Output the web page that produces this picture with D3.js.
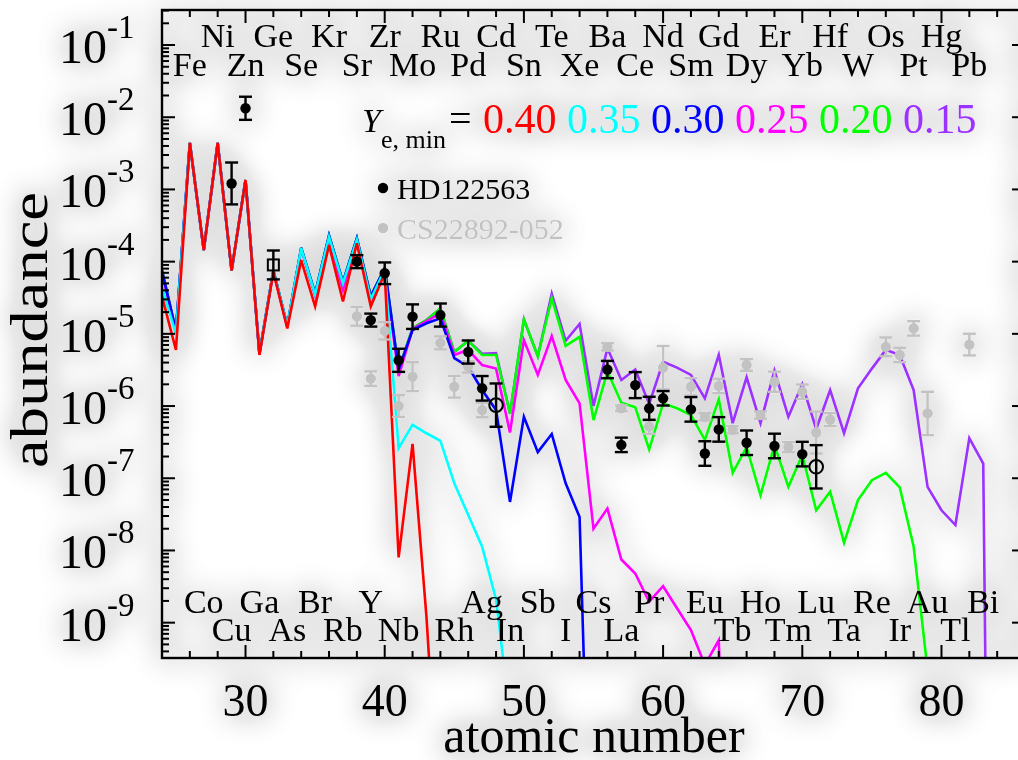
<!DOCTYPE html>
<html><head><meta charset="utf-8">
<script src="https://cdn.jsdelivr.net/npm/d3@7/dist/d3.min.js"></script>
<style>
html,body{margin:0;padding:0;background:#fff;}
svg{display:block;}
text{font-family:"Liberation Serif","Times New Roman","DejaVu Serif",serif;}
</style></head>
<body>
<svg id="chart" width="1018" height="760"></svg>
<script>
// ---------------- DATA ----------------
const Z = [24,25,26,27,28,29,30,31,32,33,34,35,36,37,38,39,40,41,42,43,44,45,46,47,48,49,50,51,52,53,54,55,56,57,58,59,60,61,62,63,64,65,66,67,68,69,70,71,72,73,74,75,76,77,78,79,80,81,82,83,84];

const ye040 = [3.3e-5,6.0e-6,4.4e-3,1.45e-4,4.4e-3,7.5e-5,1.35e-3,5.1e-6,7.2e-5,1.19e-5,1.05e-4,2.4e-5,1.7e-4,2.8e-5,1.8e-4,2.4e-5,6.9e-5,8.0e-9,3.0e-7,1.2e-9,1e-12];
const ye035 = [4.4e-5,1.0e-5,4.4e-3,1.45e-4,4.4e-3,7.5e-5,1.35e-3,5.3e-6,7.6e-5,1.3e-5,1.53e-4,3.5e-5,2.2e-4,5.0e-5,2.0e-4,3.0e-5,7.8e-5,2.6e-7,5.5e-7,4.2e-7,3.3e-7,8.5e-8,3.1e-8,1.13e-8,2.1e-9,5e-11];
const ye030 = [7.5e-5,1.1e-5,4.4e-3,1.45e-4,4.4e-3,7.5e-5,1.35e-3,5.3e-6,7.6e-5,1.3e-5,1.55e-4,3.6e-5,2.3e-4,5.2e-5,2.1e-4,3.3e-5,8.1e-5,3.2e-6,1.13e-5,1.4e-5,1.64e-5,4.6e-6,3.5e-6,1.67e-6,8.8e-7,4.7e-8,7.1e-7,2.3e-7,4.1e-7,8.5e-8,2.9e-8,1e-14];
const ye025 = [7.0e-5,1.05e-5,4.4e-3,1.45e-4,4.4e-3,7.5e-5,1.35e-3,5.2e-6,7.4e-5,1.25e-5,1.5e-4,3.4e-5,2.1e-4,4.05e-5,1.9e-4,2.65e-5,7.8e-5,2.6e-6,1.16e-5,1.5e-5,1.92e-5,5.1e-6,6.0e-6,3.7e-6,3.3e-6,4.3e-7,8.2e-6,2.7e-6,9.3e-6,2.3e-6,1.09e-6,2.0e-8,3.8e-8,7.5e-9,4.8e-9,1.95e-9,3.2e-9,1.58e-9,7.9e-10,2.6e-10,5.7e-10,1e-15];
const ye020 = [7.5e-5,1.1e-5,4.4e-3,1.45e-4,4.4e-3,7.5e-5,1.35e-3,5.3e-6,7.6e-5,1.3e-5,1.55e-4,3.6e-5,2.3e-4,5.2e-5,2.1e-4,3.3e-5,8.1e-5,3.2e-6,1.2e-5,1.55e-5,2.25e-5,5.6e-6,8.0e-6,5.1e-6,5.1e-6,7.9e-7,1.58e-5,4.9e-6,3.1e-5,6.8e-6,9.1e-6,6.4e-7,3.0e-6,1.11e-6,9.6e-7,2.5e-7,1.09e-6,9.3e-7,7.5e-7,3.4e-7,1.24e-6,1.19e-7,2.7e-7,5.8e-8,2.9e-7,7.6e-8,2.1e-7,3.6e-8,6.5e-8,1.28e-8,5.0e-8,9.4e-8,1.19e-7,7.5e-8,1.13e-8,2.2e-10];
const ye015 = [7.5e-5,1.1e-5,4.4e-3,1.45e-4,4.4e-3,7.5e-5,1.35e-3,5.3e-6,7.6e-5,1.3e-5,1.55e-4,3.6e-5,2.3e-4,5.2e-5,2.1e-4,3.3e-5,8.1e-5,3.2e-6,1.2e-5,1.55e-5,2.25e-5,5.6e-6,8.0e-6,5.3e-6,5.4e-6,7.9e-7,1.58e-5,4.9e-6,3.6e-5,8.0e-6,1.37e-5,1.0e-6,6.3e-6,2.3e-6,3.2e-6,1.07e-6,4.1e-6,3.4e-6,2.7e-6,1.28e-6,5.1e-6,5.8e-7,2.5e-6,5.8e-7,3.1e-6,7.1e-7,2.0e-6,4.8e-7,1.67e-6,4.2e-7,1.76e-6,3.3e-6,6.0e-6,5.1e-6,1.67e-6,7.6e-8,3.6e-8,2.25e-8,3.6e-7,1.6e-7,1e-25];

const seriesNames = ["0.15","0.20","0.25","0.30","0.35","0.40"];
const seriesColors = ["#9b30ff","#00ff00","#ff00ff","#0000ff","#00ffff","#ff0000"];

// HD122563 (filled)
const hdZ   = [29,30,38,39,40,41,42,44,46,47,56,57,58,59,60,62,63,64,66,68,70];
const hdVal = [1.21e-3,1.33e-2,1.0e-4,1.55e-5,6.9e-5,4.3e-6,1.73e-5,1.82e-5,5.6e-6,1.76e-6,3.2e-6,2.9e-7,1.95e-6,9.3e-7,1.28e-6,9.0e-7,2.2e-7,4.75e-7,3.1e-7,2.8e-7,2.16e-7];
const hdErr = [0.29,0.16,0.09,0.09,0.15,0.16,0.17,0.16,0.16,0.17,0.12,0.1,0.18,0.16,0.1,0.17,0.17,0.17,0.17,0.17,0.17];
// HD122563 (open symbols)
const hdOpenZ   = [32,48,71];
const hdOpenVal = [9.0e-5,1.03e-6,1.44e-7];
const hdOpenErr = [0.2,0.3,0.3];
const hdOpenSym = ["square","circle","circle"];
// CS22892-052
const csZ   = [38,39,40,41,42,44,45,46,47,56,57,59,60,62,63,64,65,66,67,68,69,70,71,72,76,77,78,79,82];
const csVal = [1.75e-5,2.4e-6,1.1e-5,1.0e-6,2.55e-6,7.5e-6,1.85e-6,3.5e-6,8.8e-7,6.6e-6,9.3e-7,5.2e-7,3.4e-6,1.85e-6,7.1e-7,1.9e-6,4.7e-7,3.7e-6,7.5e-7,2.17e-6,2.7e-7,1.58e-6,4.3e-7,6.5e-7,6.6e-6,5.1e-6,1.19e-5,7.9e-7,7.1e-6];
const csErr = [0.13,0.1,0.12,0.15,0.2,0.09,0.15,0.08,0.1,0.05,0.04,0.1,0.3,0.12,0.05,0.1,0.05,0.08,0.05,0.14,0.07,0.1,0.29,0.09,0.13,0.1,0.1,0.3,0.15];

// element labels
const topRow1 = [["Ni",28],["Ge",32],["Kr",36],["Zr",40],["Ru",44],["Cd",48],["Te",52],["Ba",56],["Nd",60],["Gd",64],["Er",68],["Hf",72],["Os",76],["Hg",80]];
const topRow2 = [["Fe",26],["Zn",30],["Se",34],["Sr",38],["Mo",42],["Pd",46],["Sn",50],["Xe",54],["Ce",58],["Sm",62],["Dy",66],["Yb",70],["W",74],["Pt",78],["Pb",82]];
const botRow1 = [["Co",27],["Ga",31],["Br",35],["Y",39],["Ag",47],["Sb",51],["Cs",55],["Pr",59],["Eu",63],["Ho",67],["Lu",71],["Re",75],["Au",79],["Bi",83]];
const botRow2 = [["Cu",29],["As",33],["Rb",37],["Nb",41],["Rh",45],["In",49],["I",53],["La",57],["Tb",65],["Tm",69],["Ta",73],["Ir",77],["Tl",81]];

const xTicks = [30,40,50,60,70,80];
const yTickExp = [-1,-2,-3,-4,-5,-6,-7,-8,-9];

// ---------------- LAYOUT ----------------
const L = 162, R = 1025, T = 10, B = 658;
const x = d3.scaleLinear().domain([24,86]).range([L,R]);
const y = d3.scaleLog().domain([3.24e-10,0.3055]).range([B,T]);

const svg = d3.select("#chart");
const defs = svg.append("defs");
const f = defs.append("filter").attr("id","glow").attr("x",-0.1).attr("y",-0.1).attr("width",1.2).attr("height",1.2);
f.append("feGaussianBlur").attr("in","SourceAlpha").attr("stdDeviation",15).attr("result","b");
f.append("feComponentTransfer").attr("in","b").attr("result","c")
  .append("feFuncA").attr("type","table").attr("tableValues","0 0.09 0.12 0.14 0.15 0.16 0.16 0.16 0.16");
const fm = f.append("feMerge");
fm.append("feMergeNode").attr("in","c");
fm.append("feMergeNode").attr("in","SourceGraphic");
defs.append("clipPath").attr("id","plotclip").append("rect")
  .attr("x",L).attr("y",T).attr("width",R-L).attr("height",B-T);

const g = svg.append("g").attr("filter","url(#glow)");
g.append("rect").attr("x",0).attr("y",0).attr("width",1018).attr("height",760).attr("fill","#fff").attr("fill-opacity",0.001);

// ---------------- LINES ----------------
const allSeries = [ye015,ye020,ye025,ye030,ye035,ye040];
const line = d3.line().defined(d => d[1] != null).x(d => x(d[0])).y(d => y(d[1]));
const lg = g.append("g").attr("clip-path","url(#plotclip)");
allSeries.forEach((s,i) => {
  const pts = s.map((v,j) => [Z[j], v]);
  lg.append("path").datum(pts).attr("d", line)
    .attr("fill","none").attr("stroke",seriesColors[i]).attr("stroke-width",2.6)
    .attr("stroke-linejoin","miter");
});

// ---------------- POINTS ----------------
function errBars(sel, zs, vs, es, color){
  zs.forEach((z,i) => {
    const v = vs[i], e = Math.pow(10, es[i]);
    const cx = x(z), y0 = y(v*e), y1 = y(v/e);
    sel.append("line").attr("x1",cx).attr("x2",cx).attr("y1",y0).attr("y2",y1).attr("stroke",color).attr("stroke-width",2.4);
    sel.append("line").attr("x1",cx-6.5).attr("x2",cx+6.5).attr("y1",y0).attr("y2",y0).attr("stroke",color).attr("stroke-width",2.4);
    sel.append("line").attr("x1",cx-6.5).attr("x2",cx+6.5).attr("y1",y1).attr("y2",y1).attr("stroke",color).attr("stroke-width",2.4);
  });
}
const pg = g.append("g");
const gray = "#c2c2c2";
errBars(pg, csZ, csVal, csErr, gray);
csZ.forEach((z,i) => pg.append("circle").attr("cx",x(z)).attr("cy",y(csVal[i])).attr("r",5.2).attr("fill",gray));
errBars(pg, hdZ, hdVal, hdErr, "#000");
hdZ.forEach((z,i) => pg.append("circle").attr("cx",x(z)).attr("cy",y(hdVal[i])).attr("r",5.2).attr("fill","#000"));
errBars(pg, hdOpenZ, hdOpenVal, hdOpenErr, "#000");
hdOpenZ.forEach((z,i) => {
  const cx = x(z), cy = y(hdOpenVal[i]);
  if (hdOpenSym[i] === "square")
    pg.append("rect").attr("x",cx-5.5).attr("y",cy-5.5).attr("width",11).attr("height",11).attr("fill","none").attr("stroke","#000").attr("stroke-width",2);
  else
    pg.append("circle").attr("cx",cx).attr("cy",cy).attr("r",6.8).attr("fill","none").attr("stroke","#000").attr("stroke-width",2);
});

// ---------------- AXES / FRAME ----------------
const ag = g.append("g");
ag.append("rect").attr("x",L).attr("y",T).attr("width",R-L).attr("height",B-T).attr("fill","none").attr("stroke","#000").attr("stroke-width",2.4);
const xMinor = d3.range(26,86,2);
xMinor.forEach(v => {
  const len = (v % 10 === 0) ? 13 : 7;
  ag.append("line").attr("x1",x(v)).attr("x2",x(v)).attr("y1",B).attr("y2",B-len).attr("stroke","#000").attr("stroke-width",2);
  ag.append("line").attr("x1",x(v)).attr("x2",x(v)).attr("y1",T).attr("y2",T+len).attr("stroke","#000").attr("stroke-width",2);
});
for (let k = -10; k <= -1; k++) {
  for (let m = 1; m <= 9; m++) {
    const v = m * Math.pow(10, k);
    const yy = y(v);
    if (yy < T || yy > B) continue;
    const len = (m === 1) ? 13 : 7;
    ag.append("line").attr("x1",L).attr("x2",L+len).attr("y1",yy).attr("y2",yy).attr("stroke","#000").attr("stroke-width",2);
    ag.append("line").attr("x1",R).attr("x2",R-len).attr("y1",yy).attr("y2",yy).attr("stroke","#000").attr("stroke-width",2);
  }
}
xTicks.forEach(v => {
  ag.append("text").attr("x",x(v)).attr("y",716).attr("text-anchor","middle").attr("font-size",46).text(v);
});
yTickExp.forEach(e => {
  const yy = y(Math.pow(10,e));
  const t = ag.append("text").attr("x",59).attr("y",yy+18).attr("font-size",48);
  t.append("tspan").text("10");
  t.append("tspan").attr("font-size",33).attr("dy",-25).text(String(e));
});
ag.append("text").attr("x",594).attr("y",752).attr("text-anchor","middle").attr("font-size",50).text("atomic number");
ag.append("text").attr("transform","translate(47,330) rotate(-90)").attr("text-anchor","middle")
  .attr("font-size",52).attr("textLength",276).attr("lengthAdjust","spacingAndGlyphs").text("abundance");

function rowLabels(arr, yy){
  arr.forEach(([s,z]) => ag.append("text").attr("x",x(z)).attr("y",yy).attr("text-anchor","middle").attr("font-size",34).text(s));
}
rowLabels(topRow1, 47);
rowLabels(topRow2, 76);
rowLabels(botRow1, 613);
rowLabels(botRow2, 641);

// legend
const lt = ag.append("text").attr("x",362).attr("y",132).attr("font-size",34);
lt.append("tspan").attr("font-style","italic").text("Y");
lt.append("tspan").attr("font-size",26).attr("dy",16).text("e, min");
ag.append("text").attr("x",449).attr("y",132).attr("font-size",40).text("=");
const vt = ag.append("text").attr("x",483).attr("y",133).attr("font-size",42);
const legOrder = ["0.40","0.35","0.30","0.25","0.20","0.15"];
const legColors = ["#ff0000","#00ffff","#0000ff","#ff00ff","#00ff00","#9b30ff"];
legOrder.forEach((s,i) => vt.append("tspan").attr("fill",legColors[i]).text((i ? " " : "") + s));

ag.append("circle").attr("cx",383).attr("cy",188).attr("r",5.2).attr("fill","#000");
ag.append("text").attr("x",397).attr("y",199).attr("font-size",30).text("HD122563");
ag.append("circle").attr("cx",383).attr("cy",228).attr("r",5.2).attr("fill",gray);
ag.append("text").attr("x",397).attr("y",239).attr("font-size",30).attr("fill",gray).text("CS22892-052");
</script>
</body></html>
